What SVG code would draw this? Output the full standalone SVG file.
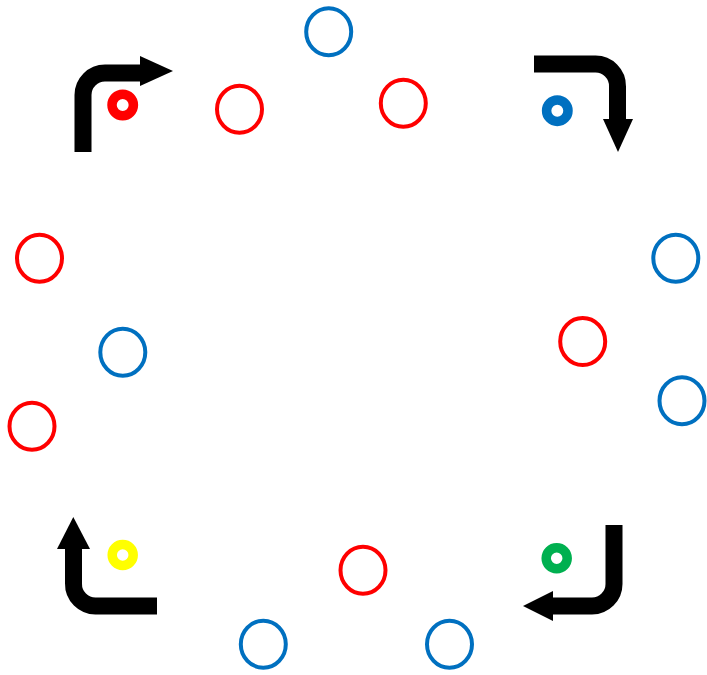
<svg xmlns="http://www.w3.org/2000/svg" width="707" height="675" viewBox="0 0 707 675">
<style>
.ring{fill:none;stroke-width:4}
.r{stroke:#FF0000}
.b{stroke:#0070C0}
.donut{fill:none;stroke-width:9.5}
.arrow{fill:none;stroke:#000;stroke-width:17}
.head{fill:#000}
</style>
<rect width="707" height="675" fill="#fff"/>
<g id="c1"><ellipse class="ring b" cx="328.7" cy="31.7" rx="22.5" ry="23.5"/></g>
<g id="c2"><ellipse class="ring r" cx="239.5" cy="109.2" rx="22.5" ry="23.5"/></g>
<g id="c3"><ellipse class="ring r" cx="403.3" cy="103.3" rx="22.5" ry="23.5"/></g>
<g id="c4"><ellipse class="ring r" cx="39.5" cy="258.3" rx="22.5" ry="23.5"/></g>
<g id="c5"><ellipse class="ring b" cx="122.8" cy="352.2" rx="22.5" ry="23.5"/></g>
<g id="c6"><ellipse class="ring r" cx="32" cy="426.2" rx="22.5" ry="23.5"/></g>
<g id="c7"><ellipse class="ring b" cx="675.8" cy="258.3" rx="22.5" ry="23.5"/></g>
<g id="c8"><ellipse class="ring r" cx="582.7" cy="341.5" rx="22.5" ry="23.5"/></g>
<g id="c9"><ellipse class="ring b" cx="682" cy="400.8" rx="22.5" ry="23.5"/></g>
<g id="c10"><ellipse class="ring r" cx="363" cy="570.2" rx="22.5" ry="23.5"/></g>
<g id="c11"><ellipse class="ring b" cx="263.3" cy="644.2" rx="22.5" ry="23.5"/></g>
<g id="c12"><ellipse class="ring b" cx="449.5" cy="644.2" rx="22.5" ry="23.5"/></g>
<g id="d1"><circle class="donut" stroke="#FF0000" cx="122.7" cy="105" r="10.7"/></g>
<g id="d2"><circle class="donut" stroke="#0070C0" cx="557.3" cy="110.7" r="10.7"/></g>
<g id="d3"><circle class="donut" stroke="#FFFF00" cx="122.7" cy="555" r="10.5"/></g>
<g id="d4"><circle class="donut" stroke="#00B050" cx="556.7" cy="558.3" r="10.5"/></g>
<g id="connectors">
<path class="arrow" d="M83 152 V95 A22 22 0 0 1 105 73 H142"/>
<polygon class="head" points="140,56 173,71 140,86"/>
<path class="arrow" d="M534 64 H595 A22 22 0 0 1 617.5 86.5 V121"/>
<polygon class="head" points="603,119 633,119 618,152"/>
<path class="arrow" d="M157 606 H96 A22 22 0 0 1 73.5 583.5 V547"/>
<polygon class="head" points="57,549 90,549 73.3,517"/>
<path class="arrow" d="M614 525 V584 A22 22 0 0 1 592 606 H551"/>
<polygon class="head" points="553,591 553,621 523,606"/>
</g>
</svg>
